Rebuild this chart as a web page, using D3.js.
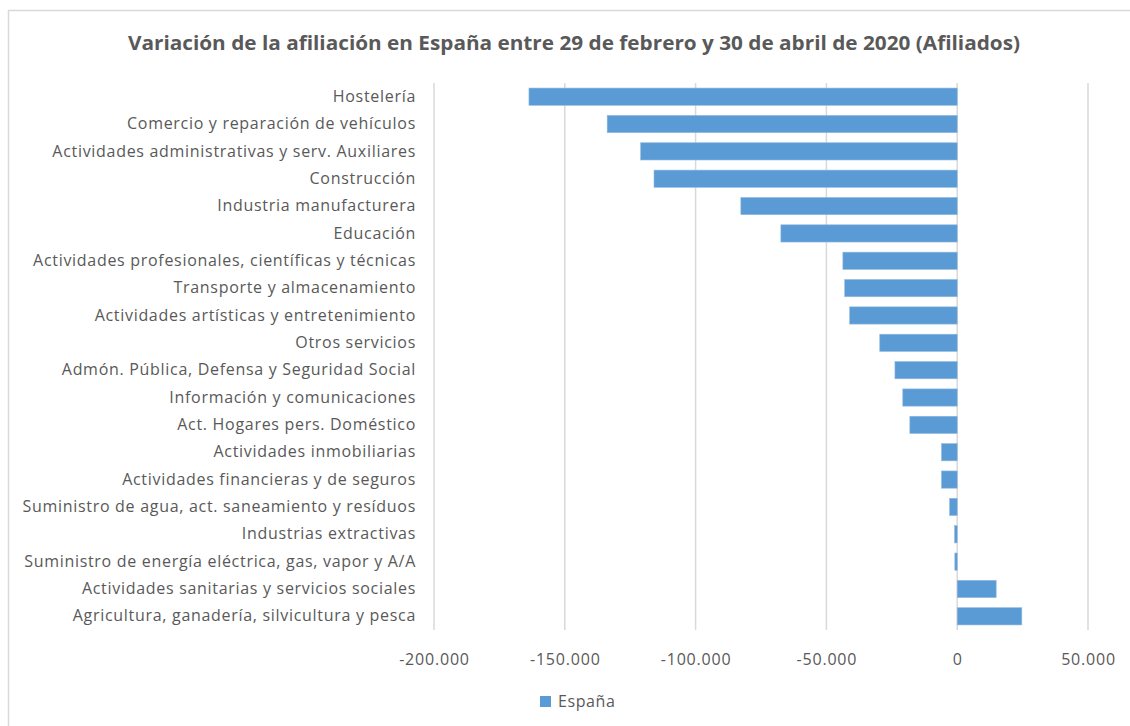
<!DOCTYPE html>
<html>
<head>
<meta charset="utf-8">
<script src="https://cdn.jsdelivr.net/npm/d3@7"></script>
<style>
  html, body { margin: 0; padding: 0; background: #fff; }
  svg { display: block; font-family: "Open Sans", "Noto Sans", sans-serif; }
</style>
</head>
<body>
<div id="chart"></div>
<script>
  const categories = [
    'Hostelería',
    'Comercio y reparación de vehículos',
    'Actividades administrativas y serv. Auxiliares',
    'Construcción',
    'Industria manufacturera',
    'Educación',
    'Actividades profesionales, científicas y técnicas',
    'Transporte y almacenamiento',
    'Actividades artísticas y entretenimiento',
    'Otros servicios',
    'Admón. Pública, Defensa y Seguridad Social',
    'Información y comunicaciones',
    'Act. Hogares pers. Doméstico',
    'Actividades inmobiliarias',
    'Actividades financieras y de seguros',
    'Suministro de agua, act. saneamiento y resíduos',
    'Industrias extractivas',
    'Suministro de energía eléctrica, gas, vapor y A/A',
    'Actividades sanitarias y servicios sociales',
    'Agricultura, ganadería, silvicultura y pesca',
  ];

  const espana = [
    -163700, -133800, -121000, -115900, -82700, -67400, -43700, -43000,
    -41100, -29600, -23800, -20800, -18100, -6000, -6000, -2900,
    -1000, -900, 14900, 24700,
  ];

  const xTicks = [-200000, -150000, -100000, -50000, 0, 50000];

  const title = 'Variación de la afiliación en España entre 29 de febrero y 30 de abril de 2020 (Afiliados)';
  const seriesName = 'España';

  const W = 1130;
  const H = 726;
  const margin = { top: 83, right: 42, bottom: 96, left: 434 };

  const colors = {
    bar: '#5b9bd5',
    barEdge: '#8fb9e0',
    grid: '#d9d9d9',
    text: '#595959',
    frame: '#d9d9d9',
  };

  const svg = d3.select('#chart').append('svg')
    .attr('width', W)
    .attr('height', H);

  // chart frame
  svg.append('rect')
    .attr('x', 8.5).attr('y', 10.5)
    .attr('width', W).attr('height', H)
    .attr('fill', 'none')
    .attr('stroke', colors.frame)
    .attr('stroke-width', 1.5);

  const x = d3.scaleLinear()
    .domain([-200000, 50000])
    .range([margin.left, W - margin.right]);

  const y = d3.scaleBand()
    .domain(categories)
    .range([margin.top, H - margin.bottom])
    .paddingInner(0.37)
    .paddingOuter(0.185);

  const fmt = d => d3.format(',')(d).replace(/,/g, '.').replace('−', '-');

  // gridlines
  svg.append('g')
    .selectAll('line')
    .data(xTicks)
    .join('line')
    .attr('x1', d => x(d)).attr('x2', d => x(d))
    .attr('y1', margin.top).attr('y2', H - margin.bottom)
    .attr('stroke', colors.grid)
    .attr('stroke-width', 1.5);

  // bars
  svg.append('g')
    .selectAll('rect')
    .data(espana)
    .join('rect')
    .attr('x', d => x(Math.min(0, d)))
    .attr('y', (d, i) => y(categories[i]))
    .attr('width', d => Math.abs(x(d) - x(0)))
    .attr('height', y.bandwidth())
    .attr('fill', colors.bar)
    .attr('stroke', colors.barEdge)
    .attr('stroke-width', 0.6);

  // category labels
  const yAxis = d3.axisLeft(y).tickSize(0).tickPadding(0);
  const gy = svg.append('g')
    .attr('transform', `translate(${margin.left - 18},0)`)
    .call(yAxis);
  gy.select('.domain').remove();
  gy.selectAll('text')
    .attr('fill', colors.text)
    .style('font-size', '16px')
    .style('letter-spacing', '0.7px')
    .style('font-family', '"Open Sans", sans-serif');

  // x axis labels
  const xAxis = d3.axisBottom(x).tickValues(xTicks).tickSize(0).tickPadding(0).tickFormat(fmt);
  const gx = svg.append('g')
    .attr('transform', `translate(0,${H - margin.bottom + 24})`)
    .call(xAxis);
  gx.select('.domain').remove();
  gx.selectAll('text')
    .attr('fill', colors.text)
    .style('font-size', '16px')
    .style('letter-spacing', '0.8px')
    .style('font-family', '"Open Sans", sans-serif');

  // title
  svg.append('text')
    .attr('x', 574)
    .attr('y', 50)
    .attr('text-anchor', 'middle')
    .attr('fill', colors.text)
    .attr('font-weight', 'bold')
    .attr('font-size', 19)
    .attr('textLength', 892)
    .attr('lengthAdjust', 'spacingAndGlyphs')
    .text(title);

  // legend
  const lg = svg.append('g').attr('transform', 'translate(540,696)');
  lg.append('rect')
    .attr('width', 11).attr('height', 11)
    .attr('fill', colors.bar);
  lg.append('text')
    .attr('x', 18).attr('y', 11)
    .attr('fill', colors.text)
    .attr('font-size', 16)
    .style('letter-spacing', '0.6px')
    .text(seriesName);
</script>
</body>
</html>
